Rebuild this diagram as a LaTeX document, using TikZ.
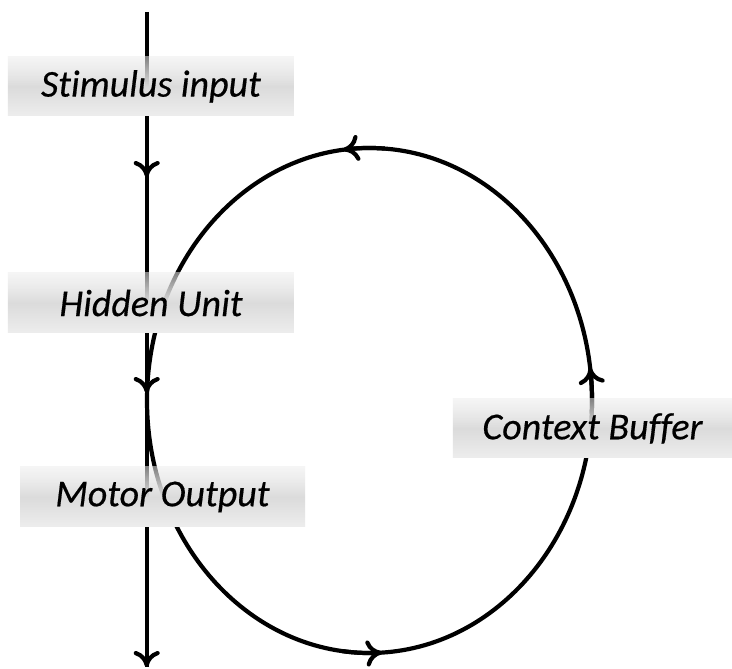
\documentclass[tikz,border=0pt]{standalone}
\usepackage{fontspec}
\setmainfont{Carlito}[Ligatures=NoCommon, ItalicFeatures={FakeBold=0.4}]
\usetikzlibrary{arrows.meta,fadings}
\definecolor{boxlight}{HTML}{EDEDED}
\definecolor{boxmid}{HTML}{DBDBDB}
\tikzfading[name=boxfade, top color=transparent!45, bottom color=transparent!0, middle color=transparent!0]
\tikzset{
  ln/.style={line width=4.2pt, black},
  arr/.style={-{To[length=16pt,width=26pt]}},
  lbl/.style={shade, top color=boxlight, bottom color=boxlight, middle color=boxmid,
    minimum height=59pt, inner sep=0pt, path fading=boxfade,
    font=\fontsize{38}{43}\selectfont\itshape, text=black}
}
\begin{document}
\begin{tikzpicture}[x=1pt,y=1pt]
\useasboundingbox (0,0) rectangle (732,669);
\fill[white] (0,0) rectangle (732,669);
% loop (context ellipse)
\coordinate (C) at (369.5,268.5);
\draw[ln] (C) ellipse [x radius=222.5, y radius=252.5];
\draw[ln,arr] (C) ++(86:222.5 and 252.5) arc[start angle=86, end angle=96.8, x radius=222.5, y radius=252.5];
\draw[ln,arr] (C) ++(-3:222.5 and 252.5) arc[start angle=-3, end angle=7.4, x radius=222.5, y radius=252.5];
\draw[ln,arr] (C) ++(263:222.5 and 252.5) arc[start angle=263, end angle=273.2, x radius=222.5, y radius=252.5];
% main vertical pathway
\coordinate (top) at (146.7,657);
\coordinate (a1) at (146.7,492);
\coordinate (a2) at (146.7,276);
\coordinate (bot) at (146.7,2);
\draw[ln] (top) -- (bot);
\draw[ln,arr] (146.7,520) -- (a1);
\draw[ln,arr] (146.7,300) -- (a2);
\draw[ln,arr] (146.7,40) -- (bot);
% labels
\node[lbl, minimum width=286pt] (stim) at (151,582.5) {Stimulus input};
\node[lbl, minimum width=286pt, minimum height=60pt] (hid) at (151,366) {Hidden Unit};
\node[lbl, minimum width=285pt, minimum height=60pt] (mot) at (162.5,172) {Motor Output};
\node[lbl, minimum width=279pt] (ctx) at (592.5,240.5) {Context Buffer};
\end{tikzpicture}
\end{document}
